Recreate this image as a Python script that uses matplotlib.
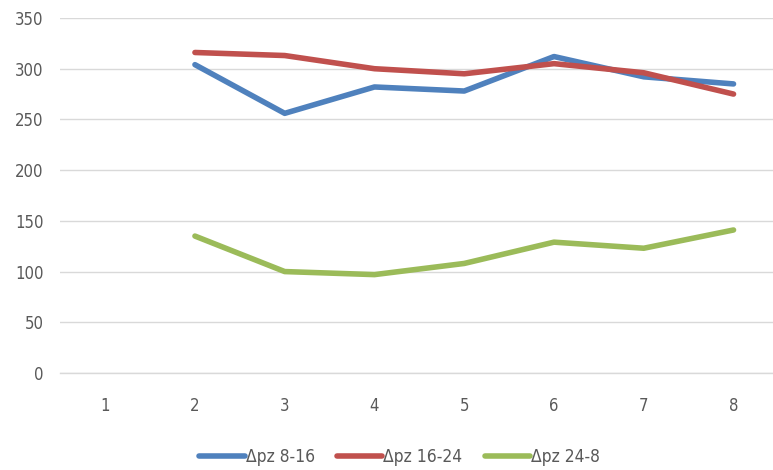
import matplotlib
matplotlib.use("Agg")
import matplotlib.pyplot as plt
from matplotlib import font_manager

# category positions and the three series (first category has no data)
categories = [1, 2, 3, 4, 5, 6, 7, 8]
x_vals = [2, 3, 4, 5, 6, 7, 8]
pz_8_16 = [304, 256, 282, 278, 312, 292, 285]
pz_16_24 = [316, 313, 300, 295, 305, 296, 275]
pz_24_8 = [135, 100, 97, 108, 129, 123, 141]
labels = ["\u0394pz 8-16", "\u0394pz 16-24", "\u0394pz 24-8"]
y_ticks = [0, 50, 100, 150, 200, 250, 300, 350]

names = {f.name for f in font_manager.fontManager.ttflist}
family = "Liberation Sans Narrow" if "Liberation Sans Narrow" in names else "DejaVu Sans"
plt.rcParams["font.family"] = [family, "DejaVu Sans"]
plt.rcParams["font.stretch"] = "condensed"

text_col = "#595959"
grid_col = "#d9d9d9"
colors = ["#4f81bd", "#c0504d", "#9bbb59"]

fig = plt.figure(figsize=(7.73, 4.70), dpi=100)
ax = fig.add_axes([0.078, 0.2064, 0.929, 0.7553])

for ys, c, lab in zip([pz_8_16, pz_16_24, pz_24_8], colors, labels):
    ax.plot(x_vals, ys, color=c, lw=4.0, solid_capstyle="round",
            solid_joinstyle="round", label=lab)

ax.set_xlim(0.5, 8.5)
ax.set_ylim(0, 350)
ax.set_yticks(y_ticks)
ax.set_xticks(categories)
ax.yaxis.grid(True, color=grid_col, lw=1)
ax.axhline(0, color=grid_col, lw=1, clip_on=False, zorder=0)
ax.set_axisbelow(True)
for s in ax.spines.values():
    s.set_visible(False)
ax.tick_params(length=0, labelsize=12, labelcolor=text_col)
ax.tick_params(axis="y", pad=12)
ax.tick_params(axis="x", pad=17)

leg = fig.legend(loc="center", bbox_to_anchor=(0.517, 0.027), ncol=3, frameon=False,
                 fontsize=12.5, handlelength=2.6, handletextpad=0.05, columnspacing=1.3)
for t in leg.get_texts():
    t.set_color(text_col)

fig.savefig("out.png", dpi=100, facecolor="white")
